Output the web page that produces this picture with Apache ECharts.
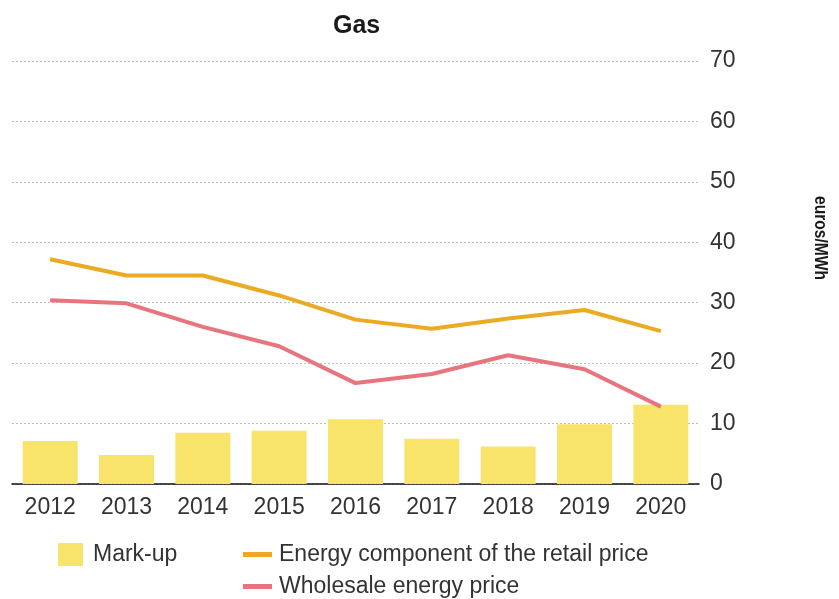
<!DOCTYPE html>
<html>
<head>
<meta charset="utf-8">
<script src="https://cdn.jsdelivr.net/npm/echarts@6/dist/echarts.min.js"></script>
<style>
  html, body { margin: 0; padding: 0; background: #fff; }
  #chart { width: 839px; height: 599px; }
</style>
</head>
<body>
<div id="chart"></div>
<script>
// Gas: mark-up vs energy component and wholesale price, euros/MWh
const years = ['2012', '2013', '2014', '2015', '2016', '2017', '2018', '2019', '2020'];
const markUp = [7.1, 4.8, 8.5, 8.8, 10.7, 7.5, 6.2, 9.9, 13.1];
const energyComponent = [37.2, 34.5, 34.5, 31.2, 27.2, 25.7, 27.4, 28.8, 25.3];
const wholesalePrice = [30.4, 29.9, 26.0, 22.8, 16.7, 18.2, 21.3, 19.0, 12.8];
const yTicks = [0, 10, 20, 30, 40, 50, 60, 70];

const FONT = "'Liberation Sans', Arial, sans-serif";
const C_BAR = '#F8E46A';
const C_ENERGY = '#EBAA22';
const C_WHOLE = '#E8747E';

const legendText = { fontFamily: FONT, fontSize: 23, color: '#333' };

const chart = echarts.init(document.getElementById('chart'), null, { renderer: 'canvas' });

chart.setOption({
  animation: false,
  backgroundColor: '#ffffff',
  title: {
    text: 'Gas',
    left: 333, top: 14, padding: 0,
    textStyle: { fontFamily: FONT, fontWeight: 'bold', fontSize: 25, color: '#1a1a1a' }
  },
  grid: { left: 12, top: 61, width: 687, height: 423 },
  legend: [
    {
      data: [{ name: 'Mark-up', icon: 'rect' }],
      left: 58, top: 543, padding: 0,
      itemWidth: 25, itemHeight: 23,
      textStyle: Object.assign({ padding: [0, 0, 0, 5] }, legendText),
      selectedMode: false
    },
    {
      data: [{ name: 'Energy component of the retail price', icon: 'rect' }],
      left: 243, top: 543, padding: 0,
      itemWidth: 29, itemHeight: 5,
      textStyle: Object.assign({ padding: [0, 0, 0, 2] }, legendText),
      selectedMode: false
    },
    {
      data: [{ name: 'Wholesale energy price', icon: 'rect' }],
      left: 243, top: 575, padding: 0,
      itemWidth: 29, itemHeight: 5,
      textStyle: Object.assign({ padding: [0, 0, 0, 2] }, legendText),
      selectedMode: false
    }
  ],
  xAxis: {
    type: 'category',
    data: years,
    axisLine: { show: true, lineStyle: { color: '#111', width: 1.5 } },
    axisTick: { show: false },
    axisLabel: { fontFamily: FONT, fontSize: 23, color: '#333', margin: 12 },
    splitLine: { show: false }
  },
  yAxis: {
    type: 'value',
    position: 'right',
    min: yTicks[0], max: yTicks[yTicks.length - 1], interval: 10,
    axisLine: { show: false },
    axisTick: { show: false },
    axisLabel: { fontFamily: FONT, fontSize: 23, color: '#333', margin: 11 },
    splitLine: { show: true, lineStyle: { color: '#bdbdbd', type: [2, 2], width: 1 } }
  },
  graphic: [
    {
      // vertical unit label, condensed to a narrow bold face
      type: 'text',
      x: 820, y: 238, rotation: -Math.PI / 2, scaleX: 0.82,
      style: {
        text: 'euros/MWh',
        font: "bold 19px " + FONT,
        fill: '#1a1a1a',
        textAlign: 'center', textVerticalAlign: 'middle'
      }
    }
  ],
  series: [
    {
      name: 'Mark-up',
      type: 'bar',
      data: markUp,
      barCategoryGap: '28%',
      itemStyle: { color: C_BAR },
      z: 1
    },
    {
      name: 'Energy component of the retail price',
      type: 'line',
      data: energyComponent,
      symbol: 'none',
      lineStyle: { color: C_ENERGY, width: 4 },
      itemStyle: { color: C_ENERGY },
      z: 3
    },
    {
      name: 'Wholesale energy price',
      type: 'line',
      data: wholesalePrice,
      symbol: 'none',
      lineStyle: { color: C_WHOLE, width: 4 },
      itemStyle: { color: C_WHOLE },
      z: 3
    }
  ]
});
</script>
</body>
</html>
